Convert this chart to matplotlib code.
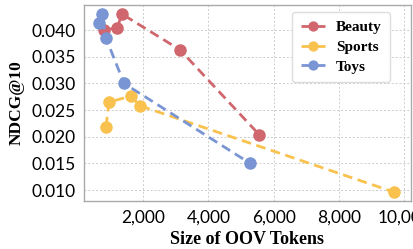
import matplotlib
matplotlib.use("Agg")
import matplotlib.pyplot as plt
from matplotlib.ticker import FuncFormatter

beauty_x = [808, 1207, 1357, 3133, 5556]
beauty_y = [0.0400, 0.0404, 0.0430, 0.0363, 0.0204]
sports_x = [867, 959, 1625, 1910, 9694]
sports_y = [0.0219, 0.0265, 0.0276, 0.0258, 0.0096]
toys_x = [652, 743, 867, 1418, 5280]
toys_y = [0.0413, 0.0430, 0.0385, 0.0300, 0.0150]
xticks = [2000, 4000, 6000, 8000, 10000]
yticks = [0.010, 0.015, 0.020, 0.025, 0.030, 0.035, 0.040]

fig = plt.figure(figsize=(4.14, 2.49), dpi=100)
ax = fig.add_axes([84/414, 1-201/249, (411-84)/414, (201-5)/249])

styles = [("Beauty", beauty_x, beauty_y, "#d0666e"),
          ("Sports", sports_x, sports_y, "#f9c24f"),
          ("Toys", toys_x, toys_y, "#7a95d4")]
for name, xs, ys, c in styles:
    ax.plot(xs, ys, linestyle=(0, (3.5, 2)), color=c, lw=2, marker="o",
            markersize=8, label=name)

ax.set_xlim(193, 10208)
ax.set_ylim(0.00794, 0.0447)
ax.set_xticks(xticks)
ax.set_yticks(yticks)
ax.xaxis.set_major_formatter(FuncFormatter(lambda v, p: f"{int(v):,}"))
ax.yaxis.set_major_formatter(FuncFormatter(lambda v, p: f"{v:.3f}"))
ax.grid(True, color="#cccccc", linestyle=(0, (2, 2)), lw=0.7)
ax.set_axisbelow(True)
for s in ax.spines.values():
    s.set_color("#aaaaaa")
    s.set_linewidth(1)
ax.tick_params(length=0, labelsize=12.5, pad=6)
for lab in ax.get_xticklabels() + ax.get_yticklabels():
    lab.set_family("Lato")

ax.set_xlabel("Size of OOV Tokens", family="Liberation Serif", weight="bold", fontsize=13, labelpad=4)
ax.set_ylabel("NDCG@10", family="Liberation Serif", weight="bold", fontsize=12.5, labelpad=5)

leg = ax.legend(loc="upper right", bbox_to_anchor=(0.936, 0.964),
                prop={"family": "Liberation Serif", "weight": "bold", "size": 11},
                handlelength=1.6, handletextpad=0.7, labelspacing=0.4,
                borderpad=0.55, fancybox=True, framealpha=1, edgecolor="#dddddd",
                markerscale=0.8, borderaxespad=0)
fig.savefig("out.png", dpi=100)
